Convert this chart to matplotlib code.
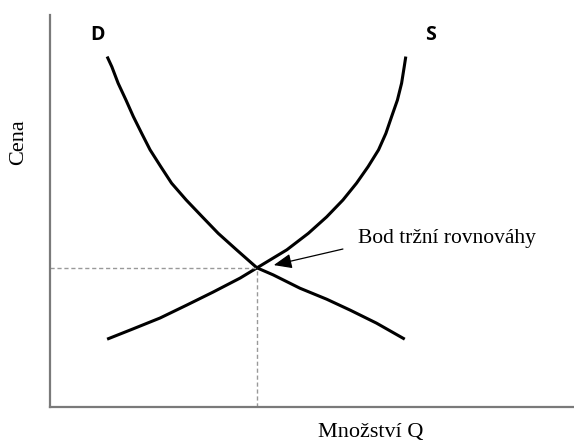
import matplotlib.pyplot as plt

# values (quantity, price), axes run 0..10
d_q = [1.09, 1.18, 1.30, 1.45, 1.59, 1.75, 1.91, 2.11, 2.32, 2.60, 2.90, 3.21, 3.56,
       3.95, 4.26, 4.77, 5.28, 5.73, 6.23, 6.77]
d_p = [8.94, 8.68, 8.26, 7.83, 7.41, 6.98, 6.56, 6.14, 5.71, 5.28, 4.86, 4.43, 4.01,
       3.55, 3.37, 3.03, 2.75, 2.47, 2.14, 1.73]
s_q = [1.09, 1.58, 2.10, 2.61, 3.11, 3.63, 3.95, 4.52, 4.93, 5.28, 5.59, 5.85, 6.07,
       6.27, 6.41, 6.52, 6.63, 6.71, 6.76, 6.79]
s_p = [1.73, 1.99, 2.27, 2.60, 2.93, 3.29, 3.55, 4.01, 4.43, 4.85, 5.28, 5.71, 6.13,
       6.56, 6.98, 7.41, 7.83, 8.26, 8.68, 8.94]
eq_q, eq_p = 3.95, 3.55

serif = ['Liberation Serif', 'DejaVu Serif']
bold = ['Open Sans', 'DejaVu Sans']

fig = plt.figure(figsize=(5.74, 4.45), dpi=100)
ax = fig.add_axes([50/574, 38/445, 524/574, 392/445])
ax.set_xlim(0, 10)
ax.set_ylim(0, 10)

ax.plot(d_q, d_p, color='black', lw=2.2, solid_capstyle='butt', solid_joinstyle='round')
ax.plot(s_q, s_p, color='black', lw=2.2, solid_capstyle='butt', solid_joinstyle='round')

ax.plot([0, eq_q], [eq_p, eq_p], color='#999999', lw=1, ls=(0, (3, 2)))
ax.plot([eq_q, eq_q], [0, eq_p], color='#999999', lw=1, ls=(0, (3, 2)))

ax.annotate('', xy=(eq_q + 0.32, eq_p + 0.07), xytext=(5.59, 4.03),
            arrowprops=dict(arrowstyle='-|>,head_length=1.1,head_width=0.45',
                            color='black', lw=0.9, shrinkA=0, shrinkB=0))
ax.text(5.88, 4.31, 'Bod tržní rovnováhy', family=serif, fontsize=15.5,
        ha='left', va='center')

ax.text(0.90, 9.49, 'D', family=bold, fontweight='bold', fontsize=14,
        ha='center', va='center')
ax.text(7.27, 9.49, 'S', family=bold, fontweight='bold', fontsize=14,
        ha='center', va='center')

for side in ['top', 'right']:
    ax.spines[side].set_visible(False)
for side in ['left', 'bottom']:
    ax.spines[side].set_color('#7a7a7a')
    ax.spines[side].set_linewidth(1.6)
ax.set_xticks([])
ax.set_yticks([])

fig.text(19/574, 1 - 142/445, 'Cena', family=serif, fontsize=16,
         rotation=90, ha='center', va='center')
fig.text(371/574, 1 - 433/445, 'Množství Q', family=serif, fontsize=16,
         ha='center', va='center')

fig.savefig('out.png', dpi=100)
